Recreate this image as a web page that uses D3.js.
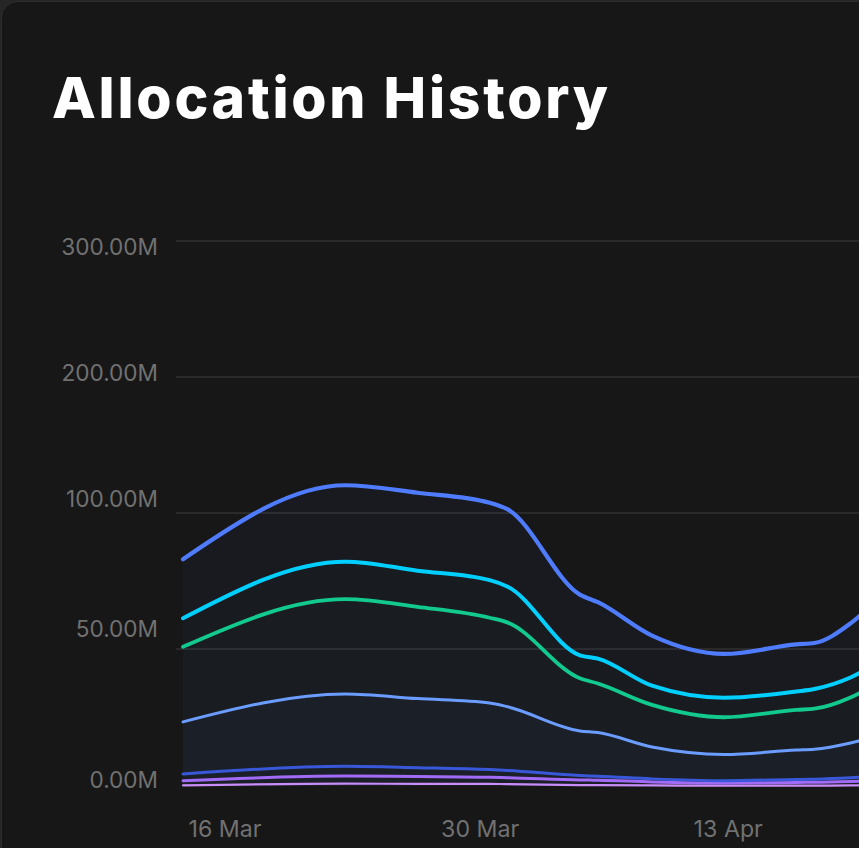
<!DOCTYPE html>
<html><head><meta charset="utf-8">
<script src="https://cdn.jsdelivr.net/npm/d3@7"></script>
<style>
html,body{margin:0;padding:0;background:#262626;overflow:hidden;}
svg{display:block;}
</style></head><body>
<svg id="chart" width="859" height="848"></svg>
<script>
// ---------------- DATA ----------------
const title = "Allocation History";
const dates = ["2024-03-16","2024-03-25","2024-03-29","2024-04-02","2024-04-03","2024-04-07","2024-04-08",
               "2024-04-11","2024-04-15","2024-04-19","2024-04-20","2024-04-22","2024-04-24"];
// values in millions, bottom layer first
const seriesKeys = ["s1", "s2", "s3", "s4", "s5", "s6", "s7"];
const s1 = [0.25, 0.85, 0.8, 0.75, 0.7, 0.35, 0.3, 0.2, 0.12, 0.15, 0.15, 0.2, 0.3];
const s2 = [1.65, 2.8, 2.65, 2.45, 2.35, 1.85, 1.8, 1.3, 0.98, 1.15, 1.2, 1.45, 1.8];
const s3 = [2.5, 3.55, 3.25, 2.8, 2.65, 1.6, 1.5, 1.1, 0.85, 1.1, 1.15, 1.35, 1.7];
const s4 = [19.0, 26.4, 25.2, 24.3, 23.2, 16.3, 15.9, 11.6, 9.55, 10.7, 10.9, 12.7, 15.5];
const s5 = [27.4, 34.7, 33.6, 31.2, 30.8, 19.2, 17.9, 15.4, 13.6, 14.7, 14.8, 16.6, 20.5];
const s6 = [10.5, 13.8, 13.3, 13.8, 13.2, 8.4, 9.1, 7.0, 7.1, 6.7, 7.2, 7.3, 7.3];
const s7 = [21.7, 38.3, 36.1, 32.3, 29.7, 22.3, 20.7, 18.3, 16.0, 17.2, 16.8, 19.8, 24.6];
const yTicks = [0, 50, 100, 200, 300];
const xTicks = ["2024-03-16", "2024-03-30", "2024-04-13"];

// ---------------- STYLE / LAYOUT ----------------
const colors = {s1:"#c98cf8", s2:"#a16bf6", s3:"#3858d9", s4:"#6b9cff", s5:"#12c98e", s6:"#00cfff", s7:"#4f7cfc"};
const widths = {s1:2.2, s2:3, s3:3, s4:3, s5:3.8, s6:4, s7:4.2};
const bandFill = {
  s1:"rgba(80,130,255,0.075)", s2:"rgba(80,130,255,0.075)", s3:"rgba(80,130,255,0.075)",
  s4:"rgba(80,130,255,0.075)", s5:"rgba(70,140,220,0.055)", s6:"rgba(60,150,255,0.04)",
  s7:"rgba(79,124,252,0.035)"
};
const yRange = [786, 649, 513, 377, 241];
const labelShift = {0:-6, 50:-20, 100:-14, 200:-4, 300:6};

const svg = d3.select("#chart");
svg.append("rect").attr("x", 1.5).attr("y", 1.5).attr("width", 1400).attr("height", 1400)
  .attr("rx", 16).attr("fill", "#171717").attr("stroke", "#2d2d2d").attr("stroke-width", 1);

const t = svg.append("text").attr("x", 52).attr("y", 118)
  .attr("font-family", "Inter, 'Open Sans', sans-serif").attr("font-weight", 800)
  .attr("font-size", 57).attr("fill", "#ffffff").text(title);
const tw = t.node().getComputedTextLength();
t.attr("letter-spacing", ((556 - tw) / (title.length - 1)).toFixed(2));

const parseDay = d3.utcParse("%Y-%m-%d");
const rows = dates.map((d, i) => ({date: parseDay(d), s1:s1[i], s2:s2[i], s3:s3[i], s4:s4[i], s5:s5[i], s6:s6[i], s7:s7[i]}));

const pxPerDay = 18.04;
const x0 = parseDay(dates[0]);
const x = d3.scaleUtc().domain([x0, d3.utcDay.offset(x0, 40)]).range([183, 183 + 40 * pxPerDay]);
const y = d3.scaleLinear().domain(yTicks).range(yRange);

// grid
svg.append("g").selectAll("line").data(yTicks.filter(v => v > 0)).join("line")
  .attr("x1", 176).attr("x2", 1400)
  .attr("y1", d => y(d)).attr("y2", d => y(d))
  .attr("stroke", "#2a2a2a").attr("stroke-width", 2);

// y axis labels
const yAxis = d3.axisLeft(y).tickValues(yTicks).tickSize(0).tickPadding(0)
  .tickFormat(d => d3.format(".2f")(d) + "M");
const ya = svg.append("g").attr("transform", "translate(158,0)").call(yAxis);
ya.select(".domain").remove();
ya.selectAll("text").attr("font-family", "Inter, sans-serif").attr("font-size", 22.6)
  .attr("fill", "#717171").attr("dy", d => (labelShift[d] + 7.8) + "px").attr("dx", 0);

// x axis labels
const xAxis = d3.axisBottom(x).tickValues(xTicks.map(parseDay)).tickSize(0).tickPadding(0)
  .tickFormat(d3.utcFormat("%-d %b"));
const xa = svg.append("g").attr("transform", "translate(0,836.5)").call(xAxis);
xa.select(".domain").remove();
xa.selectAll("text").attr("font-family", "Inter, sans-serif").attr("font-size", 23.2)
  .attr("fill", "#717171").attr("text-anchor", "start").attr("dx", 5).attr("dy", 0)
  .attr("y", 0);

// stacked series
const layers = d3.stack().keys(seriesKeys)(rows);
const area = d3.area().x(d => x(d.data.date)).y0(d => y(d[0])).y1(d => y(d[1])).curve(d3.curveMonotoneX);
const line = d3.line().x(d => x(d.data.date)).y(d => y(d[1])).curve(d3.curveMonotoneX);

svg.append("g").selectAll("path").data(layers).join("path")
  .attr("d", area).attr("fill", d => bandFill[d.key]);
svg.append("g").selectAll("path").data(layers).join("path")
  .attr("d", line).attr("fill", "none").attr("stroke", d => colors[d.key])
  .attr("stroke-width", d => widths[d.key]).attr("stroke-linecap", "round");
</script>
</body></html>
